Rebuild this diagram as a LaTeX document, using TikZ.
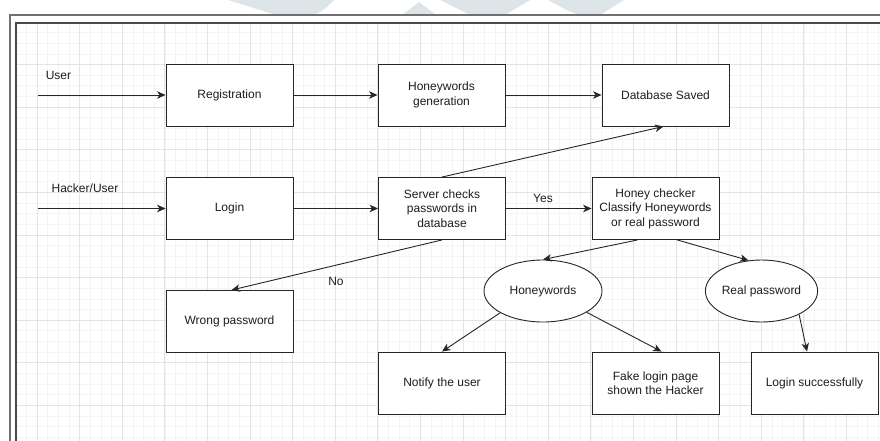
\documentclass[tikz,border=0pt]{standalone}
\usepackage{fontspec}
\setmainfont{Liberation Sans}
\usetikzlibrary{arrows.meta,calc,shapes.geometric}
\definecolor{boxc}{HTML}{262626}
\definecolor{txt}{HTML}{1E1E1E}
\definecolor{gminor}{HTML}{F4F4F4}
\definecolor{gmajor}{HTML}{E4E4E4}
\definecolor{frameo}{HTML}{707070}
\definecolor{framei}{HTML}{4A4A4A}
\definecolor{wmark}{HTML}{DEE5E8}
\begin{document}
\begin{tikzpicture}[x=1pt,y=-1pt,
  txtfont/.style={font=\fontsize{12}{14.4}\selectfont},
  box/.style={draw=boxc,line width=0.9pt,fill=white,minimum width=127pt,minimum height=62pt,
    align=center,inner sep=2pt,text=txt,txtfont},
  ell/.style={draw=boxc,ellipse,fill=white,line width=0.9pt,inner sep=0pt,text=txt,txtfont},
  conn/.style={draw=boxc,line width=0.9pt,-{Stealth[length=8.5pt,width=7.5pt,inset=2.5pt]}},
  lbl/.style={text=txt,txtfont,inner sep=0pt},
  minorgrid/.style={draw=gminor,line width=0.6pt},
  majorgrid/.style={draw=gmajor,line width=0.8pt}]
\useasboundingbox (0,0) rectangle (880,441);
\fill[white] (0,0) rectangle (880,441);
% watermark (faint, above frame)
\begin{scope}
  \clip (0,0) rectangle (880,14);
  \fill[wmark] (228,0) -- (276,15) -- (314,15) .. controls (324,10) .. (334,0) -- cycle;
  \fill[wmark] (402,15) -- (419,2) -- (436,15) -- cycle;
  \fill[wmark] (440,0) -- (470,15) -- (505,15) -- (530,0) -- cycle;
  \fill[wmark] (548,0) .. controls (570,12) .. (580,15) -- (600,15) -- (624,0) -- cycle;
\end{scope}
% grid
\begin{scope}
  \clip (16,23) rectangle (880,441);
  \foreach \i in {-3,...,81} {
    \draw[minorgrid] ({37+\i*10.65},23) -- ({37+\i*10.65},441);
  }
  \foreach \j in {0,...,41} {
    \draw[minorgrid] (16,{21.9+\j*10.65}) -- (880,{21.9+\j*10.65});
  }
  \foreach \i in {-1,...,20} {
    \draw[majorgrid] ({37+\i*42.6},23) -- ({37+\i*42.6},441);
  }
  \foreach \j in {0,...,10} {
    \draw[majorgrid] (16,{21.9+\j*42.6}) -- (880,{21.9+\j*42.6});
  }
\end{scope}
% frame
\draw[frameo,line width=1.8pt] (10,441) -- (10,15) -- (880,15);
\draw[framei,line width=1.5pt] (16,441) -- (16,23) -- (880,23);

% nodes
\node[box] (reg) at (229.5,95) {Registration};
\node[box] (hgen) at (441.5,95) {Honeywords\\generation};
\node[box] (db) at (665.5,95) {Database Saved};
\node[box] (login) at (229.5,208.5) {Login};
\node[box] (server) at (442,208.5) {Server checks\\passwords in\\database};
\node[box] (honeyc) at (655.5,208.5) {Honey checker\\Classify Honeywords\\or real password};
\node[box] (wrong) at (229.5,321.5) {Wrong password};
\node[box] (notify) at (442,383) {Notify the user};
\node[box] (fake) at (655.5,383) {Fake login page\\shown the Hacker};
\node[box] (loginok) at (814.5,383) {Login successfully};
\node[ell,minimum width=118pt,minimum height=62pt] (hw) at (543,291) {Honeywords};
\node[ell,minimum width=107pt,minimum height=62pt] (rp) at (761.5,291) {Real password};

% labels
\node[lbl] (luser) at (58.5,75) {User};
\node[lbl] (lhack) at (85,188) {Hacker/User};
\node[lbl] (lyes) at (543,198) {Yes};
\node[lbl] (lno) at (336,281) {No};

\coordinate (u0) at (38,95);
\coordinate (h0) at (38,208.5);

% connectors
\draw[conn] (u0) -- (reg.west);
\draw[conn] (h0) -- (login.west);
\draw[conn] (reg.east) -- (hgen.west);
\draw[conn] (hgen.east) -- (db.west);
\draw[conn] (login.east) -- (server.west);
\draw[conn] (server.east) -- (honeyc.west);
\draw[conn] (server.north) -- ($(db.south)+(-2,0)$);
\draw[conn] (server.south) -- ($(wrong.north)+(2,0)$);
\draw[conn] ($(honeyc.south west)!0.36!(honeyc.south east)$) -- (hw.north);
\draw[conn] ($(honeyc.south west)!0.67!(honeyc.south east)$) -- (rp.113);
\draw[conn] (hw.207) -- (notify.north);
\draw[conn] (hw.334) -- ($(fake.north)+(6,0)$);
\draw[conn] (rp.328) -- ($(loginok.north)+(-7.5,0)$);
\end{tikzpicture}
\end{document}
